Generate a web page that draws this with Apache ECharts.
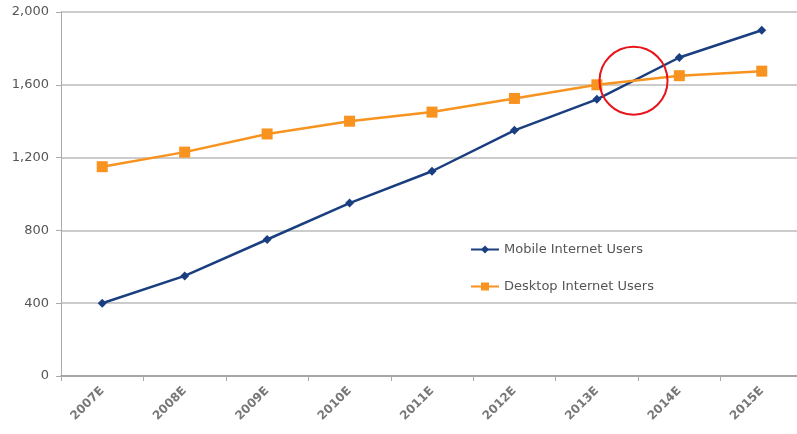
<!DOCTYPE html>
<html><head><meta charset="utf-8">
<script src="https://cdn.jsdelivr.net/npm/echarts@6/dist/echarts.min.js"></script>
<style>html,body{margin:0;padding:0;background:#fff}#c{width:797px;height:434px}</style>
</head><body><div id="c"></div>
<script>
const categories = ['2007E','2008E','2009E','2010E','2011E','2012E','2013E','2014E','2015E'];
const mobileUsers = [400, 550, 750, 950, 1125, 1350, 1520, 1750, 1900];
const desktopUsers = [1150, 1230, 1330, 1400, 1450, 1525, 1600, 1650, 1675];
const yTicks = [0, 400, 800, 1200, 1600, 2000];

const chart = echarts.init(document.getElementById('c'));
const font = 'DejaVu Sans, Verdana, sans-serif';
chart.setOption({
  animation: false,
  grid: {left: 61, width: 742, top: 12, bottom: 58, outerBoundsMode: 'none', containLabel: false},
  legend: {
    orient: 'vertical', left: 465, top: 238, itemGap: 24,
    itemWidth: 28, itemHeight: 10,
    textStyle: {color: '#555', fontSize: 13, fontFamily: font},
    data: ['Mobile Internet Users', 'Desktop Internet Users']
  },
  xAxis: {
    type: 'category', data: categories, boundaryGap: true,
    axisLine: {lineStyle: {color: '#999', width: 1.5}},
    axisTick: {show: true, length: 5, lineStyle: {color: '#aaa'}},
    axisLabel: {rotate: 45, color: '#777', fontSize: 12, fontWeight: 'bold', fontFamily: font, margin: 13}
  },
  yAxis: {
    type: 'value', min: yTicks[0], max: yTicks[yTicks.length-1], interval: 400,
    axisLine: {show: true, lineStyle: {color: '#aaa'}},
    axisTick: {show: true, length: 5, lineStyle: {color: '#aaa'}},
    splitLine: {lineStyle: {color: '#bbb', width: 1.5}},
    axisLabel: {color: '#555', fontSize: 13, fontFamily: font, margin: 12,
      formatter: v => v.toLocaleString('en-US')}
  },
  series: [
    {name: 'Mobile Internet Users', type: 'line', data: mobileUsers,
     symbol: 'diamond', symbolSize: 9, lineStyle: {color: '#1a3f80', width: 2.5},
     itemStyle: {color: '#1a3f80'}},
    {name: 'Desktop Internet Users', type: 'line', data: desktopUsers,
     symbol: 'rect', symbolSize: 11, lineStyle: {color: '#f7931e', width: 2.5},
     itemStyle: {color: '#f7931e'}}
  ]
});

// Red circle highlighting the crossing between 2013E and 2014E
const i = 6;
const dm = mobileUsers[i+1]-mobileUsers[i], dd = desktopUsers[i+1]-desktopUsers[i];
const t = (desktopUsers[i]-mobileUsers[i])/(dm-dd);
const yv = mobileUsers[i] + t*dm;
const p0 = chart.convertToPixel({gridIndex:0}, [i, yv]);
const p1 = chart.convertToPixel({gridIndex:0}, [i+1, yv]);
const cx = p0[0] + t*(p1[0]-p0[0]);
chart.setOption({graphic: [{type: 'circle', shape: {cx: cx, cy: p0[1], r: 34},
  style: {fill: 'none', stroke: '#e8141b', lineWidth: 2}, z: 100}]});
</script></body></html>
